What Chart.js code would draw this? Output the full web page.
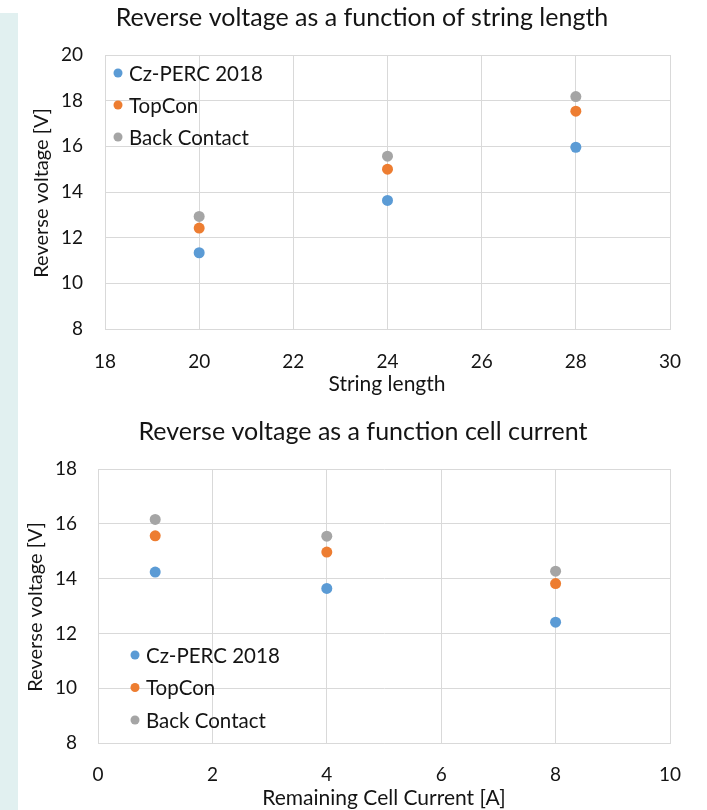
<!DOCTYPE html>
<html>
<head>
<meta charset="utf-8">
<script src="https://cdn.jsdelivr.net/npm/chart.js@4.4.1/dist/chart.umd.min.js"></script>
<style>
  html, body { margin: 0; padding: 0; background: #ffffff; }
  #page { position: relative; width: 707px; height: 810px; overflow: hidden; }
  #band { position: absolute; left: 0; top: 13px; width: 18px; height: 797px; background: #e1f0f0; }
  canvas { position: absolute; left: 0; }
  #byLength { top: 0; }
  #byCurrent { top: 405px; }
</style>
</head>
<body>
<div id="page">
  <div id="band"></div>
  <canvas id="byLength" width="707" height="405"></canvas>
  <canvas id="byCurrent" width="707" height="405"></canvas>
</div>
<script>
// series
const seriesNames = ["Cz-PERC 2018", "TopCon", "Back Contact"]
const seriesColors = ["#5b9bd5", "#ed7d31", "#a5a5a5"]

// reverse voltage vs string length
const stringLengths = [20, 24, 28]
const czPercByLength = [11.34, 13.63, 15.96]
const topConByLength = [12.42, 15.0, 17.54]
const backContactByLength = [12.93, 15.57, 18.18]
const lengthTicks = [18, 20, 22, 24, 26, 28, 30]
const voltageTicksTop = [8, 10, 12, 14, 16, 18, 20]

// reverse voltage vs remaining cell current
const cellCurrents = [1, 4, 8]
const czPercByCurrent = [14.24, 13.64, 12.41]
const topConByCurrent = [15.56, 14.97, 13.82]
const backContactByCurrent = [16.16, 15.55, 14.27]
const currentTicks = [0, 2, 4, 6, 8, 10]
const voltageTicksBottom = [8, 10, 12, 14, 16, 18]

const FONT = "Lato, 'Open Sans', sans-serif"
const TEXT = "#141414"
const GRID = "#d9d9d9"

function toPoints(xs, ys) {
  return xs.map((x, i) => ({ x: x, y: ys[i] }))
}

function makeDatasets(xs, seriesValues) {
  return seriesValues.map((ys, i) => ({
    label: seriesNames[i],
    data: toPoints(xs, ys),
    backgroundColor: seriesColors[i],
    borderColor: seriesColors[i],
    pointRadius: 5.5,
    pointHoverRadius: 5.5,
    borderWidth: 0,
  }))
}

// titles, axis titles and an in-plot legend drawn by hand
const textLayer = {
  id: "textLayer",
  afterDraw(chart, args, opts) {
    const ctx = chart.ctx
    ctx.save()
    ctx.fillStyle = TEXT
    ctx.textBaseline = "middle"
    ctx.textAlign = "center"

    ctx.font = "25px " + FONT
    ctx.fillText(opts.title, opts.titleAt[0], opts.titleAt[1])

    ctx.font = "21px " + FONT
    ctx.fillText(opts.xTitle, opts.xTitleAt[0], opts.xTitleAt[1])

    ctx.save()
    ctx.font = "20px " + FONT
    ctx.translate(opts.yTitleAt[0], opts.yTitleAt[1])
    ctx.rotate(-Math.PI / 2)
    ctx.fillText(opts.yTitle, 0, 0)
    ctx.restore()

    ctx.textAlign = "left"
    ctx.font = "20.5px " + FONT
    chart.data.datasets.forEach((ds, i) => {
      const x = opts.legendAt[0]
      const y = opts.legendAt[1] + i * opts.legendStep
      ctx.fillStyle = ds.backgroundColor
      ctx.beginPath()
      ctx.arc(x, y, 4.5, 0, Math.PI * 2)
      ctx.fill()
      ctx.fillStyle = TEXT
      ctx.fillText(ds.label, x + 11, y + 1)
    })
    ctx.restore()
  },
}

function axis(min, max, tickValues, padding, size, horizontal) {
  return {
    type: "linear",
    min: min,
    max: max,
    afterBuildTicks: (scale) => {
      scale.ticks = tickValues.map((v) => ({ value: v }))
    },
    afterFit: (scale) => {
      if (horizontal) scale.height = size
      else scale.width = size
    },
    grid: { color: GRID, lineWidth: 1, drawTicks: false },
    border: { color: GRID, width: 1 },
    ticks: {
      color: TEXT,
      padding: padding,
      font: { family: FONT, size: 19 },
    },
  }
}

new Chart(document.getElementById("byLength"), {
  type: "scatter",
  data: {
    datasets: makeDatasets(stringLengths, [czPercByLength, topConByLength, backContactByLength]),
  },
  plugins: [textLayer],
  options: {
    responsive: false,
    animation: false,
    layout: { padding: { top: 55, right: 37, left: 0, bottom: 0 } },
    scales: {
      x: axis(18, 30, lengthTicks, 21, 76, true),
      y: axis(8, 20, voltageTicksTop, 22, 105, false),
    },
    plugins: {
      legend: { display: false },
      tooltip: { enabled: false },
      textLayer: {
        title: "Reverse voltage as a function of string length",
        titleAt: [362, 18],
        xTitle: "String length",
        xTitleAt: [387, 384],
        yTitle: "Reverse voltage [V]",
        yTitleAt: [42, 193],
        legendAt: [118, 73],
        legendStep: 32,
      },
    },
  },
})

new Chart(document.getElementById("byCurrent"), {
  type: "scatter",
  data: {
    datasets: makeDatasets(cellCurrents, [czPercByCurrent, topConByCurrent, backContactByCurrent]),
  },
  plugins: [textLayer],
  options: {
    responsive: false,
    animation: false,
    layout: { padding: { top: 64, right: 37, left: 0, bottom: 0 } },
    scales: {
      x: axis(0, 10, currentTicks, 20, 67, true),
      y: axis(8, 18, voltageTicksBottom, 21, 98, false),
    },
    plugins: {
      legend: { display: false },
      tooltip: { enabled: false },
      textLayer: {
        title: "Reverse voltage as a function cell current",
        titleAt: [363, 27],
        xTitle: "Remaining Cell Current [A]",
        xTitleAt: [384, 393],
        yTitle: "Reverse voltage [V]",
        yTitleAt: [36, 202],
        legendAt: [135, 250],
        legendStep: 32.5,
      },
    },
  },
})
</script>
</body>
</html>
